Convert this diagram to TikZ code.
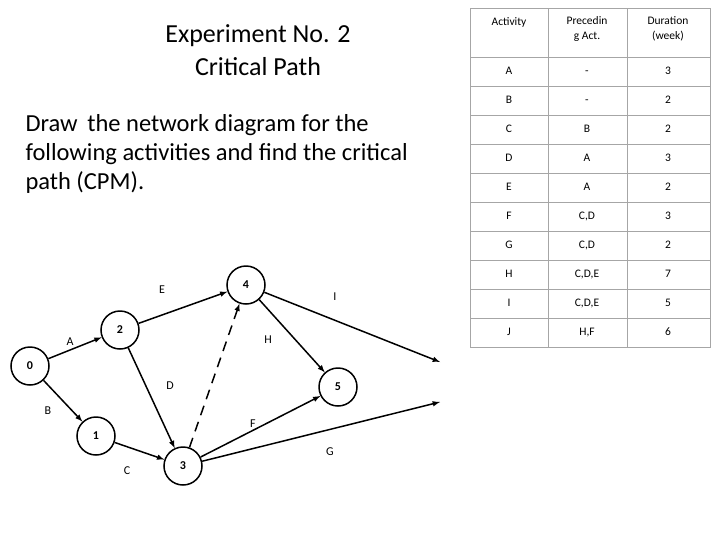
\documentclass[tikz,border=0pt]{standalone}
\usepackage{fontspec}
\setmainfont{Carlito}
\begin{document}
\begin{tikzpicture}[x=1pt,y=-1pt,
 nd/.style={circle,draw,line width=1.5pt,minimum size=38pt,inner sep=0pt,font=\bfseries\fontsize{12}{12}\selectfont},
 ar/.style={-latex,line width=1.5pt},
 lb/.style={font=\fontsize{12}{12}\selectfont},
 tc/.style={font=\fontsize{11.5}{15}\selectfont,align=center,text height=8pt,text depth=2pt}]
\useasboundingbox (0,0) rectangle (720,539);
\node[font=\fontsize{26}{33}\selectfont,align=center] (t) at (258,50) {Experiment No. 2\\Critical Path};
\node[font=\fontsize{24.5}{29}\selectfont,align=left,anchor=north west] (b) at (22,111) {Draw\, the network diagram for the\\following activities and find the critical\\path (CPM).};
% table
\draw[gray!70,line width=0.6pt] (470,8) rectangle (710,347);
\foreach \x in {548,627} \draw[gray!70,line width=0.6pt] (\x,8) -- (\x,347);
\foreach \i in {0,...,9} \draw[gray!70,line width=0.6pt] (470,57+29*\i) -- (710,57+29*\i);
\node[tc] (h1) at (509,22) {Activity};
\node[tc,text height=] (h2) at (587,29) {Precedin\\g Act.};
\node[tc,text height=] (h3) at (668,29) {Duration\\(week)};
\foreach \a/\p/\d [count=\i from 0] in {A/-/3,B/-/2,C/B/2,D/A/3,E/A/2,F/{C,D}/3,G/{C,D}/2,H/{C,D,E}/7,I/{C,D,E}/5,J/{H,F}/6}{
 \node[tc] (ra\i) at (509,71.5+29*\i) {\a};
 \node[tc] (rp\i) at (587,71.5+29*\i) {\p};
 \node[tc] (rd\i) at (668,71.5+29*\i) {\d};}
% network
\node[nd] (n0) at (30,366) {0};
\node[nd] (n2) at (120,330) {2};
\node[nd] (n1) at (96,436) {1};
\node[nd] (n3) at (183,466) {3};
\node[nd] (n4) at (246,285) {4};
\node[nd] (n5) at (338,387) {5};
\coordinate (e1) at (440,362);
\coordinate (e2) at (440,402);
\draw[ar] (n0) -- (n2);
\draw[ar] (n0) -- (n1);
\draw[ar] (n2) -- (n4);
\draw[ar] (n2) -- (n3);
\draw[ar] (n1) -- (n3);
\draw[ar,dash pattern=on 10pt off 7pt] (n3) -- (n4);
\draw[ar] (n4) -- (n5);
\draw[ar] (n4) -- (e1);
\draw[ar] (n3) -- (n5);
\draw[ar] (n3) -- (e2);
\node[lb] (lE) at (162,290) {E};
\node[lb] (lA) at (70,342) {A};
\node[lb] (lB) at (48,411) {B};
\node[lb] (lD) at (170,386) {D};
\node[lb] (lH) at (268,340) {H};
\node[lb] (lI) at (335,297) {I};
\node[lb] (lC) at (127,471) {C};
\node[lb] (lF) at (253,424) {F};
\node[lb] (lG) at (330,452) {G};
\end{tikzpicture}
\end{document}
